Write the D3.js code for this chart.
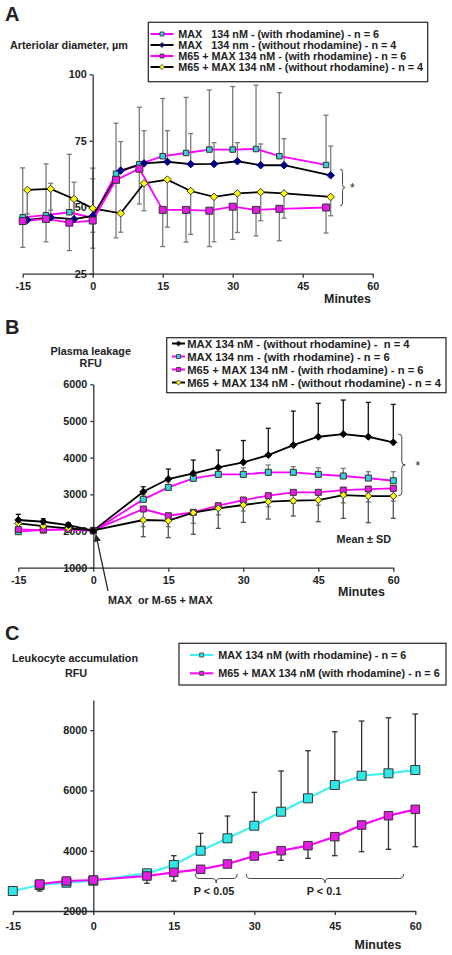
<!DOCTYPE html>
<html><head><meta charset="utf-8">
<script src="https://cdn.jsdelivr.net/npm/d3@7/dist/d3.min.js"></script>
<style>html,body{margin:0;padding:0;background:#fff;}svg{display:block;}</style>
</head><body>
<script>
// ---------------- DATA ----------------
const xTicks = [-15, 0, 15, 30, 45, 60];

// Panel A: arteriolar diameter (µm)
const minutesA = [-15, -10, -5, 0, 5, 10, 15, 20, 25, 30, 35, 40, 50];
const minutesAShifted = [-14, -9, -4, 0, 6, 11, 16, 21, 26, 31, 36, 41, 51];
const yTicksA = [25, 50, 75, 100];
const diamMaxRhod = [46.2, 47.0, 48.1, 46.0, 62.6, 66.2, 69.2, 70.4, 71.7, 71.7, 71.9, 69.2, 65.9];
const sdMaxRhod = [18.6, 19.3, 21.8, 18.7, 19.0, 21.4, 21.7, 20.9, 22.4, 23.7, 24.0, 23.9, 18.7];
const diamMaxNoRhod = [45.2, 46.2, 45.5, 46.7, 63.8, 66.5, 67.1, 66.2, 66.3, 67.3, 65.8, 65.8, 62.0];
const sdMaxNoRhod = [11.0, 12.8, 13.9, 14.0, 10.9, 12.3, 11.7, 11.5, 8.0, 7.0, 8.0, 10.0, 11.0];
const diamM65Rhod = [44.8, 45.6, 44.2, 45.0, 60.3, 64.5, 49.0, 49.0, 48.7, 50.2, 49.0, 49.4, 49.9];
const sdM65Rhod = [9.9, 8.6, 10.5, 10.4, 21.8, 13.3, 13.8, 12.1, 13.5, 12.3, 9.8, 12.0, 9.6];
const diamM65NoRhod = [56.5, 56.9, 53.1, 49.6, 47.7, 59.0, 60.4, 56.1, 53.9, 55.2, 55.7, 55.2, 53.9];
const sdM65NoRhod = [9.0, 8.0, 8.0, 9.0, 7.1, 10.3, 17.9, 16.3, 16.9, 14.7, 10.8, 9.3, 7.1];
const legendA = [
  "MAX   134 nM - (with rhodamine) - n = 6",
  "MAX   134 nm - (without rhodamine) - n = 4",
  "M65 + MAX 134 nM - (with rhodamine) - n = 6",
  "M65 + MAX 134 nM - (without rhodamine) - n = 4"
];

// Panel B: plasma leakage (RFU)
const minutesB = [-15, -10, -5, 0, 10, 15, 20, 25, 30, 35, 40, 45, 50, 55, 60];
const yTicksB = [1000, 2000, 3000, 4000, 5000, 6000];
const leakMaxNoRhod = [2300, 2253, 2163, 2010, 3071, 3417, 3572, 3735, 3872, 4071, 4343, 4570, 4643, 4570, 4417];
const sdLeakMaxNoRhod = [155, 80, 60, 0, 136, 273, 363, 472, 595, 729, 927, 910, 927, 937, 1035];
const leakMaxRhod = [1981, 2030, 2050, 2000, 2863, 3190, 3436, 3545, 3545, 3600, 3600, 3545, 3500, 3444, 3371];
const sdLeakMaxRhod = [60, 50, 40, 0, 120, 150, 150, 150, 180, 200, 155, 180, 208, 173, 246];
const leakM65Rhod = [2045, 2027, 2045, 2018, 2600, 2417, 2509, 2690, 2845, 2963, 3054, 3054, 3117, 3144, 3163];
const sdLeakM65Rhod = [50, 40, 40, 0, 480, 300, 300, 250, 300, 300, 300, 350, 350, 350, 350];
const leakM65NoRhod = [2209, 2136, 2073, 2018, 2300, 2281, 2499, 2618, 2709, 2800, 2827, 2845, 2981, 2954, 2954];
const sdLeakM65NoRhod = [100, 50, 40, 0, 455, 463, 590, 545, 473, 473, 418, 590, 636, 727, 609];
const legendB = [
  "MAX 134 nM - (without rhodamine) -  n = 4",
  "MAX 134 nm - (with rhodamine) - n = 6",
  "M65 + MAX 134 nM - (with rhodamine) - n = 6",
  "M65 + MAX 134 nM - (without rhodamine) - n = 4"
];

// Panel C: leukocyte accumulation (RFU)
const minutesC = [-15, -10, -5, 0, 10, 15, 20, 25, 30, 35, 40, 45, 50, 55, 60];
const yTicksC = [2000, 4000, 6000, 8000];
const leukMaxRhod = [2663, 2862, 2939, 3006, 3250, 3526, 4000, 4411, 4830, 5294, 5738, 6180, 6488, 6567, 6677];
const sdLeukMaxRhod = [0, 0, 0, 0, 60, 309, 577, 740, 1107, 1350, 1579, 1768, 1814, 1845, 1858];
const leukM65Rhod = [null, 2895, 2995, 3028, 3161, 3283, 3383, 3559, 3824, 4000, 4167, 4465, 4853, 5161, 5373];
const sdLeukM65Rhod = [null, 232, 30, 0, 242, 288, 100, 100, 80, 319, 420, 630, 886, 1115, 1240];
const legendC = [
  "MAX 134 nM (with rhodamine) - n = 6",
  "M65 + MAX 134 nM (with rhodamine) - n = 6"
];

// ---------------- DRAWING ----------------
const FONT = "'Liberation Sans', Arial, Helvetica, sans-serif";
const CYAN = "#33D3D3", CYAN_C = "#2EE8E8", CYAN_LINE = "#3DF4F4", MAG = "#FF00FF", MAGF = "#E81AE8",
      NAVY = "#000080", YEL = "#FFFF00", GREY = "#7a7a7a", DARK = "#222";

const svg = d3.select("body").append("svg").attr("width", 452).attr("height", 955)
  .style("font-family", FONT);
svg.append("rect").attr("width", 452).attr("height", 955).attr("fill", "#fff");

function zip(ts, vs, sds) {
  return ts.map((t, i) => ({t, v: vs[i], sd: sds ? sds[i] : 0})).filter(d => d.v != null);
}
function squarePath(s) { const h = s / 2; return `M${-h},${-h}H${h}V${h}H${-h}Z`; }
function diamondPath(r) { return `M0,${-r}L${r},0L0,${r}L${-r},0Z`; }

function txt(g, x, y, s, size, anchor, weight) {
  return g.append("text").attr("x", x).attr("y", y).text(s)
    .attr("font-size", size).attr("font-weight", weight || "bold")
    .attr("text-anchor", anchor || "start").attr("fill", DARK).style("white-space", "pre");
}

const plainFmt = d => String(d);
function drawAxes(g, x, y, yTicks, xPad) {
  const yBase = y.domain()[0];
  const ax = g.append("g").attr("transform", `translate(0,${y(yBase)})`)
    .call(d3.axisBottom(x).tickValues(xTicks).tickFormat(plainFmt).tickSize(4).tickSizeOuter(0).tickPadding(xPad));
  const ay = g.append("g").attr("transform", `translate(${x(0)},0)`)
    .call(d3.axisLeft(y).tickValues(yTicks).tickFormat(plainFmt).tickSize(3).tickSizeOuter(0).tickPadding(3));
  [ax, ay].forEach(a => {
    a.selectAll("path,line").attr("stroke", "#333").attr("stroke-width", 1.3);
    a.selectAll("text").attr("font-size", 10.8).attr("font-weight", "bold")
      .attr("fill", DARK).attr("font-family", FONT);
  });
}

function errBars(g, x, y, data, dir, color, cap) {
  const sel = g.append("g").selectAll("g").data(data.filter(d => d.sd > 0)).join("g");
  sel.append("line").attr("x1", d => x(d.t)).attr("x2", d => x(d.t))
    .attr("y1", d => y(d.v)).attr("y2", d => y(d.v + dir * d.sd))
    .attr("stroke", color).attr("stroke-width", 1.3);
  sel.append("line").attr("x1", d => x(d.t) - cap).attr("x2", d => x(d.t) + cap)
    .attr("y1", d => y(d.v + dir * d.sd)).attr("y2", d => y(d.v + dir * d.sd))
    .attr("stroke", color).attr("stroke-width", 1.3);
}
function seriesLine(g, x, y, data, color, w) {
  g.append("path").datum(data).attr("fill", "none").attr("stroke", color).attr("stroke-width", w)
    .attr("d", d3.line().x(d => x(d.t)).y(d => y(d.v)));
}
function markers(g, x, y, data, shape, size, fill, stroke) {
  g.append("g").selectAll("path").data(data).join("path")
    .attr("transform", d => `translate(${x(d.t)},${y(d.v)})`)
    .attr("d", shape === "sq" ? squarePath(size) : diamondPath(size / 2))
    .attr("fill", fill).attr("stroke", stroke).attr("stroke-width", 1);
}
function legend(g, x0, y0, x1, y1, rows, rowsY, symX0, symX1, textX, size) {
  g.append("rect").attr("x", x0).attr("y", y0).attr("width", x1 - x0).attr("height", y1 - y0)
    .attr("fill", "#fff").attr("stroke", "#333").attr("stroke-width", 1.3);
  rows.forEach((r, i) => {
    const yy = rowsY[i];
    g.append("line").attr("x1", symX0).attr("x2", symX1).attr("y1", yy).attr("y2", yy)
      .attr("stroke", r.line).attr("stroke-width", 2);
    g.append("path").attr("transform", `translate(${(symX0 + symX1) / 2},${yy})`)
      .attr("d", r.shape === "sq" ? squarePath(4) : diamondPath(2.6))
      .attr("fill", r.fill).attr("stroke", "#333").attr("stroke-width", 0.8);
    txt(g, textX, yy + size * 0.36, r.label, size);
  });
}
function braceV(g, x, y1, y2, w) {
  const ym = (y1 + y2) / 2, xm = x + w / 2, r = 3;
  g.append("path").attr("fill", "none").attr("stroke", "#444").attr("stroke-width", 1)
    .attr("d", `M${x},${y1}Q${xm},${y1} ${xm},${y1 + r}L${xm},${ym - r}Q${xm},${ym} ${x + w},${ym}` +
      `Q${xm},${ym} ${xm},${ym + r}L${xm},${y2 - r}Q${xm},${y2} ${x},${y2}`);
}
function braceH(g, x1, x2, y, h) {
  const xm = (x1 + x2) / 2, ym = y + h / 2, r = 4;
  g.append("path").attr("fill", "none").attr("stroke", "#444").attr("stroke-width", 1)
    .attr("d", `M${x1},${y}Q${x1},${ym} ${x1 + r},${ym}L${xm - r},${ym}Q${xm},${ym} ${xm},${y + h}` +
      `Q${xm},${ym} ${xm + r},${ym}L${x2 - r},${ym}Q${x2},${ym} ${x2},${y}`);
}

// ---------- Panel A ----------
{
  const g = svg.append("g");
  const x = d3.scaleLinear().domain([-15, 60]).range([22.7, 372.7]);
  const y = d3.scaleLinear().domain([25, 100]).range([273.7, 74.3]);
  const sMaxR = zip(minutesA, diamMaxRhod, sdMaxRhod);
  const sMaxN = zip(minutesAShifted, diamMaxNoRhod, sdMaxNoRhod);
  const sM65R = zip(minutesA, diamM65Rhod, sdM65Rhod);
  const sM65N = zip(minutesAShifted, diamM65NoRhod, sdM65NoRhod);

  txt(g, 5, 21, "A", 20);
  txt(g, 10, 49, "Arteriolar diameter, µm", 10.8);

  errBars(g, x, y, sMaxR, 1, GREY, 2.5);
  errBars(g, x, y, sMaxN, 1, GREY, 2.5);
  errBars(g, x, y, sM65R, -1, GREY, 2.5);
  errBars(g, x, y, sM65N, -1, GREY, 2.5);
  drawAxes(g, x, y, yTicksA, 5);

  seriesLine(g, x, y, sMaxR, MAG, 1.8);
  seriesLine(g, x, y, sMaxN, "#000", 1.8);
  seriesLine(g, x, y, sM65N, "#000", 1.8);
  seriesLine(g, x, y, sM65R, MAG, 1.8);
  markers(g, x, y, sMaxR, "sq", 5.5, CYAN, "#333");
  markers(g, x, y, sMaxN, "di", 7.5, NAVY, NAVY);
  markers(g, x, y, sM65N, "di", 7.5, YEL, "#333");
  markers(g, x, y, sM65R, "sq", 7, MAGF, "#333");

  braceV(g, x(53), y(64.3), y(50.5), 5);
  g.append("text").attr("x", 350).attr("y", 192).text("*").attr("font-size", 12).attr("fill", DARK);
  txt(g, 347.5, 302.5, "Minutes", 12.4, "middle");

  legend(g, 148.3, 22.3, 427.7, 81.7, [
    {label: legendA[0], line: MAG, fill: CYAN, shape: "sq"},
    {label: legendA[1], line: "#000", fill: NAVY, shape: "di"},
    {label: legendA[2], line: MAG, fill: MAGF, shape: "sq"},
    {label: legendA[3], line: "#000", fill: YEL, shape: "di"}
  ], [34, 45, 56, 67], 150.5, 173.5, 178.3, 10.8);
}

// ---------- Panel B ----------
{
  const g = svg.append("g");
  const x = d3.scaleLinear().domain([-15, 60]).range([18.3, 393.3]);
  const y = d3.scaleLinear().domain([1000, 6000]).range([567.7, 384.3]);
  const sBlk = zip(minutesB, leakMaxNoRhod, sdLeakMaxNoRhod);
  const sCyn = zip(minutesB, leakMaxRhod, sdLeakMaxRhod);
  const sMag = zip(minutesB, leakM65Rhod, sdLeakM65Rhod);
  const sYel = zip(minutesB, leakM65NoRhod, sdLeakM65NoRhod);

  txt(g, 5, 333.5, "B", 20);
  txt(g, 90.7, 354.5, "Plasma leakage", 10.8, "middle");
  txt(g, 90.7, 367, "RFU", 10.8, "middle");

  errBars(g, x, y, sCyn, 1, GREY, 2.5);
  errBars(g, x, y, sMag, -1, GREY, 2.5);
  errBars(g, x, y, sYel, -1, "#555", 2.5);
  errBars(g, x, y, sBlk, 1, "#111", 2.5);
  drawAxes(g, x, y, yTicksB, 5);

  seriesLine(g, x, y, sCyn, MAG, 1.8);
  seriesLine(g, x, y, sMag, MAG, 1.8);
  seriesLine(g, x, y, sYel, "#000", 1.8);
  seriesLine(g, x, y, sBlk, "#000", 1.8);
  markers(g, x, y, sCyn, "sq", 6, CYAN, "#333");
  markers(g, x, y, sMag, "sq", 6, MAGF, "#333");
  markers(g, x, y, sYel, "di", 7, YEL, "#333");
  markers(g, x, y, sBlk, "di", 7, "#000", "#000");

  braceV(g, x(61), y(4643), y(2962), 7);
  g.append("text").attr("x", 415.5).attr("y", 470).text("*").attr("font-size", 12).attr("fill", DARK);
  txt(g, 363.7, 543, "Mean ± SD", 10.8, "middle");
  txt(g, 361.5, 596, "Minutes", 12.4, "middle");
  txt(g, 108, 604, "MAX  or M-65 + MAX", 10.8);

  const defs = svg.append("defs");
  defs.append("marker").attr("id", "arr").attr("viewBox", "0 0 10 10").attr("refX", 9).attr("refY", 5)
    .attr("markerWidth", 6).attr("markerHeight", 6).attr("orient", "auto")
    .append("path").attr("d", "M0,0L10,5L0,10Z").attr("fill", "#222");
  g.append("line").attr("x1", 108).attr("y1", 591).attr("x2", 96).attr("y2", 535)
    .attr("stroke", "#222").attr("stroke-width", 1.2).attr("marker-end", "url(#arr)");

  legend(g, 166.7, 337.7, 446, 392.7, [
    {label: legendB[0], line: "#000", fill: "#000", shape: "di"},
    {label: legendB[1], line: MAG, fill: CYAN, shape: "sq"},
    {label: legendB[2], line: MAG, fill: MAGF, shape: "sq"},
    {label: legendB[3], line: "#000", fill: YEL, shape: "di"}
  ], [343.5, 356.5, 369.5, 382.5], 172, 185, 187.3, 11.2);
}

// ---------- Panel C ----------
{
  const g = svg.append("g");
  const x = d3.scaleLinear().domain([-15, 60]).range([12.8, 415.3]);
  const y = d3.scaleLinear().domain([2000, 9000]).range([911, 700]);
  const sCyn = zip(minutesC, leukMaxRhod, sdLeukMaxRhod);
  const sMag = zip(minutesC, leukM65Rhod, sdLeukM65Rhod);

  txt(g, 5, 640, "C", 20);
  txt(g, 75, 661.5, "Leukocyte accumulation", 10.8, "middle");
  txt(g, 76, 676.5, "RFU", 10.8, "middle");

  errBars(g, x, y, sCyn, 1, "#333", 2.8);
  errBars(g, x, y, sMag, -1, "#333", 2.8);
  drawAxes(g, x, y, yTicksC, 7);

  seriesLine(g, x, y, sCyn, CYAN_LINE, 2.2);
  seriesLine(g, x, y, sMag, MAG, 2.2);
  markers(g, x, y, sCyn, "sq", 9, CYAN_C, "#333");
  markers(g, x, y, sMag, "sq", 8.5, MAGF, "#333");

  braceH(g, x(19), x(26.8), y(3227), 9);
  braceH(g, x(28.5), x(57.8), y(3227), 9);
  txt(g, 214, 895, "P < 0.05", 10.8, "middle");
  txt(g, 324, 895, "P < 0.1", 10.8, "middle");
  txt(g, 378, 948.5, "Minutes", 12.4, "middle");

  legend(g, 179, 643.3, 446, 685, [
    {label: legendC[0], line: CYAN_LINE, fill: CYAN_C, shape: "sq"},
    {label: legendC[1], line: MAG, fill: MAGF, shape: "sq"}
  ], [655, 673.3], 190, 213.3, 218.3, 10.8);
}
</script>
</body></html>
